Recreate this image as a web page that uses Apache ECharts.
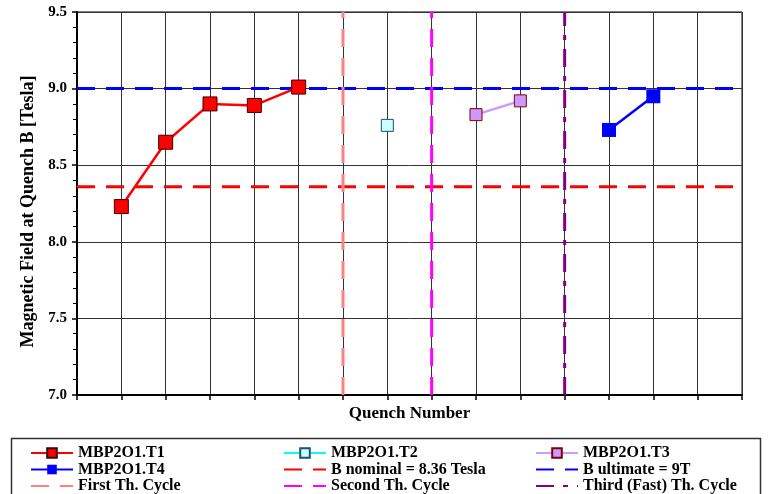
<!DOCTYPE html>
<html>
<head>
<meta charset="utf-8">
<script src="https://cdn.jsdelivr.net/npm/echarts@6/dist/echarts.min.js"></script>
<style>
  html, body { margin: 0; padding: 0; background: #fff; }
  #chart { width: 768px; height: 494px; }
</style>
</head>
<body>
<div id="chart"></div>
<script>
// quench number / field values
var t1X = [1, 2, 3, 4, 5];
var t1Y = [8.23, 8.65, 8.90, 8.89, 9.01];
var t2X = [7];
var t2Y = [8.76];
var t3X = [9, 10];
var t3Y = [8.83, 8.92];
var t4X = [12, 13];
var t4Y = [8.73, 8.95];

var bNominal = 8.36;
var bUltimate = 9.0;
var cycleX = [6, 8, 11]; // first, second, third thermal cycle

var xMin = 0, xMax = 15;
var yMin = 7.0, yMax = 9.5;

var FONT = "Liberation Serif";

function pairs(xs, ys) {
  var out = [];
  for (var i = 0; i < xs.length; i++) out.push([xs[i], ys[i]]);
  return out;
}
function hline(y) { return [[xMin, y], [xMax, y]]; }
function vline(x) { return [[x, yMin], [x, yMax]]; }

// dashed reference line; itemStyle transparent so the legend shows no dot
function refLine(name, data, color, dash) {
  return {
    name: name, type: "line", data: data,
    symbol: "none", silent: true, z: 3,
    lineStyle: { color: color, width: 3, type: dash },
    itemStyle: { color: "transparent", borderWidth: 0 }
  };
}

var chart = echarts.init(document.getElementById("chart"));

var legendText = { fontFamily: FONT, fontWeight: "bold", fontSize: 16, color: "#000", lineHeight: 16 };
function legendCol(left, names) {
  return {
    orient: "vertical",
    left: left,
    top: 445,
    itemWidth: 42,
    itemHeight: 12,
    itemGap: 0.5,
    padding: 0,
    textStyle: legendText,
    data: names
  };
}

var option = {
  animation: false,
  backgroundColor: "#fff",
  grid: {
    left: 77, right: 26, top: 12, bottom: 99,
    show: true, borderColor: "#000", borderWidth: 1
  },
  legend: [
    legendCol(30, ["MBP2O1.T1", "MBP2O1.T4", "First Th. Cycle"]),
    legendCol(283, ["MBP2O1.T2", "B nominal = 8.36 Tesla", "Second Th. Cycle"]),
    legendCol(535, ["MBP2O1.T3", "B ultimate = 9T", "Third (Fast) Th. Cycle"])
  ],
  graphic: [{
    type: "rect",
    shape: { x: 11.5, y: 438.5, width: 749, height: 70 },
    style: { fill: "none", stroke: "#333", lineWidth: 1.5 },
    silent: true
  }],
  xAxis: {
    type: "value",
    min: xMin, max: xMax, interval: 1,
    name: "Quench Number",
    nameLocation: "middle",
    nameGap: 10,
    nameTextStyle: { fontFamily: FONT, fontWeight: "bold", fontSize: 17, color: "#000", verticalAlign: "top" },
    axisLine: { onZero: false, lineStyle: { color: "#000", width: 2 } },
    axisTick: { show: true, length: 5, lineStyle: { color: "#000", width: 1.5 } },
    axisLabel: { show: false },
    splitLine: { show: true, lineStyle: { color: "#333", width: 1 } }
  },
  yAxis: {
    type: "value",
    min: yMin, max: yMax, interval: 0.5,
    name: "Magnetic Field at Quench B [Tesla]",
    nameLocation: "middle",
    nameGap: 37,
    nameTextStyle: { fontFamily: FONT, fontWeight: "bold", fontSize: 18, color: "#000", padding: [0, 16, 0, 0] },
    axisLine: { show: true, onZero: false, lineStyle: { color: "#000", width: 2 } },
    axisTick: { show: true, length: 5, lineStyle: { color: "#000", width: 1.5 } },
    minorTick: { show: true, splitNumber: 5, length: 4, lineStyle: { color: "#000", width: 1 } },
    axisLabel: {
      fontFamily: FONT, fontWeight: "bold", fontSize: 15, color: "#000", margin: 10,
      formatter: function (v) { return v.toFixed(1); }
    },
    splitLine: { show: true, lineStyle: { color: "#333", width: 1 } }
  },
  series: [
    refLine("B nominal = 8.36 Tesla", hline(bNominal), "#ff0000", [18, 11]),
    refLine("B ultimate = 9T", hline(bUltimate), "#0000ff", [18, 11]),
    refLine("First Th. Cycle", vline(cycleX[0]), "#ff8080", [18, 11]),
    refLine("Second Th. Cycle", vline(cycleX[1]), "#ff00ff", [18, 11]),
    refLine("Third (Fast) Th. Cycle", vline(cycleX[2]), "#800080", [18, 9, 5, 9]),
    {
      name: "MBP2O1.T1", type: "line", data: pairs(t1X, t1Y),
      symbol: "rect", symbolSize: 14, z: 5,
      lineStyle: { color: "#ff0000", width: 2.5 },
      itemStyle: { color: "#ff0000", borderColor: "#3a0000", borderWidth: 1 }
    },
    {
      name: "MBP2O1.T2", type: "line", data: pairs(t2X, t2Y),
      symbol: "rect", symbolSize: 12, z: 5,
      lineStyle: { color: "#00ffff", width: 2.5 },
      itemStyle: { color: "#ccffff", borderColor: "#1f4f6f", borderWidth: 1 }
    },
    {
      name: "MBP2O1.T3", type: "line", data: pairs(t3X, t3Y),
      symbol: "rect", symbolSize: 12, z: 5,
      lineStyle: { color: "#cc99ff", width: 2.5 },
      itemStyle: { color: "#cc99ff", borderColor: "#800000", borderWidth: 1 }
    },
    {
      name: "MBP2O1.T4", type: "line", data: pairs(t4X, t4Y),
      symbol: "rect", symbolSize: 14, z: 5,
      lineStyle: { color: "#0000ff", width: 2.5 },
      itemStyle: { color: "#0000ff", borderColor: "#0000ff", borderWidth: 0 }
    }
  ]
};

chart.setOption(option);
window.addEventListener("resize", chart.resize);
</script>
</body>
</html>
